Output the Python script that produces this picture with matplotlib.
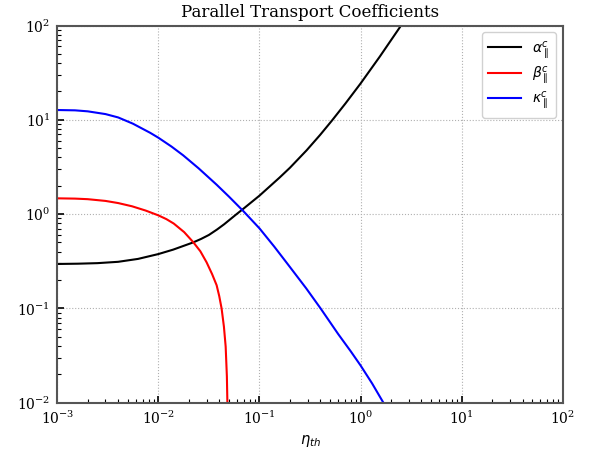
import matplotlib
matplotlib.use("Agg")
import matplotlib.pyplot as plt

plt.rcParams['font.family'] = 'serif'
plt.rcParams['font.serif'] = ['DejaVu Serif']
plt.rcParams['mathtext.fontset'] = 'dejavusans'

# alpha_par^c
eta_a = [1e-3, 1.6e-3, 2.5e-3, 4e-3, 6.3e-3, 1e-2, 1.4e-2, 2.21e-2, 2.65e-2, 3.16e-2,
         3.8e-2, 4.47e-2, 5.94e-2, 6.86e-2, 0.1, 0.158, 0.2, 0.292, 0.398, 0.52,
         0.708, 1.0, 1.55, 2.48, 3.16]
alpha = [0.296, 0.298, 0.302, 0.312, 0.335, 0.377, 0.42, 0.501, 0.546, 0.601,
         0.686, 0.78, 1.0, 1.13, 1.57, 2.44, 3.10, 4.74, 6.92, 9.8,
         14.9, 24.3, 46.9, 98.0, 145.0]

# beta_par^c
eta_b = [1e-3, 1.5e-3, 2e-3, 3e-3, 4e-3, 5.5e-3, 7.5e-3, 1e-2, 1.2e-2, 1.42e-2,
         1.8e-2, 2.21e-2, 2.6e-2, 3.0e-2, 3.4e-2, 3.77e-2, 4.0e-2, 4.22e-2, 4.45e-2, 4.63e-2,
         4.76e-2, 4.82e-2, 4.86e-2]
beta = [1.47, 1.46, 1.44, 1.38, 1.31, 1.21, 1.09, 0.97, 0.885, 0.794,
        0.644, 0.505, 0.404, 0.308, 0.231, 0.176, 0.135, 0.10, 0.064, 0.0394,
        0.019, 0.0095, 0.003]

# kappa_par^c
eta_k = [1e-3, 1.5e-3, 2e-3, 3e-3, 4e-3, 5.6e-3, 8.3e-3, 1e-2, 1.35e-2, 1.76e-2,
         2.5e-2, 3.77e-2, 5e-2, 6.9e-2, 0.1, 0.14, 0.192, 0.29, 0.402, 0.6,
         0.8, 1.0, 1.3, 1.68, 2.0]
kappa = [12.7, 12.6, 12.3, 11.5, 10.6, 9.1, 7.28, 6.46, 5.2, 4.2,
         3.06, 2.05, 1.53, 1.08, 0.706, 0.452, 0.291, 0.163, 0.100, 0.0535,
         0.0350, 0.0248, 0.0160, 0.01, 0.0073]

fig = plt.figure(figsize=(5.9, 4.53), dpi=100)
ax = fig.add_axes([0.097, 0.111, 0.857, 0.8327])

ax.loglog(eta_a, alpha, color='k', lw=1.5, label=r'$\alpha_\parallel^c$')
ax.loglog(eta_b, beta, color='r', lw=1.5, label=r'$\beta_\parallel^c$')
ax.loglog(eta_k, kappa, color='b', lw=1.5, label=r'$\kappa_\parallel^c$')

ax.set_xlim(1e-3, 1e2)
ax.set_ylim(1e-2, 1e2)
ax.set_title('Parallel Transport Coefficients', fontsize=12)
ax.set_xlabel(r'$\eta_{th}$', fontsize=10.5)
ax.grid(True, which='major', ls=':', color='#b0b0b0', lw=0.8)

for s in ax.spines.values():
    s.set_color('#555555')
    s.set_linewidth(1.5)
ax.tick_params(which='both', direction='in', top=False, right=False, labelsize=10)
ax.tick_params(which='major', length=5, width=1.2, pad=5)
ax.tick_params(which='minor', length=3, width=0.8)

ax.legend(loc='upper right', fontsize=10, framealpha=0.9, edgecolor='#cccccc',
          labelspacing=0.25, borderpad=0.45, handlelength=2.4)

fig.savefig('out.png', dpi=100)
